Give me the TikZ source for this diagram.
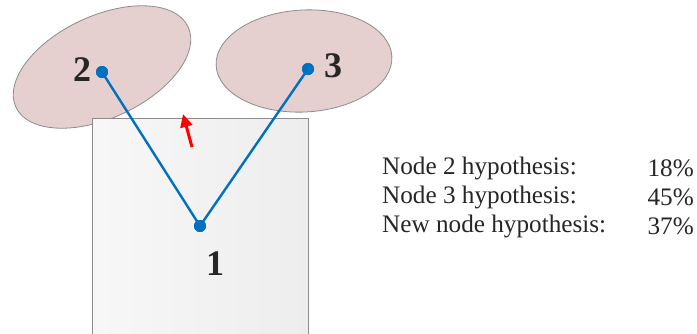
\documentclass[tikz,border=0pt]{standalone}
\usepackage{fontspec}
\setmainfont{Liberation Serif}
\usetikzlibrary{arrows.meta}
\definecolor{linkblue}{HTML}{0070C0}
\definecolor{blobfill}{HTML}{E6CFCF}
\definecolor{edgegray}{HTML}{8C8C8C}
\definecolor{inkdark}{HTML}{262626}
\tikzset{
  pt/.style={circle, fill=linkblue, inner sep=0pt, minimum size=12pt},
  link/.style={draw=linkblue, line width=2.4pt},
  numlabel/.style={font=\fontsize{36}{36}\selectfont\bfseries, text=inkdark, inner sep=0pt},
  info/.style={font=\fontsize{25.2}{25.2}\selectfont, text=inkdark, inner sep=0pt},
}
\begin{document}
\begin{tikzpicture}[x=1pt,y=-1pt]
\useasboundingbox (0,0) rectangle (697,333);
% neighbouring regions
\draw[draw=edgegray, fill=blobfill, line width=0.8pt, rotate around={25:(102,67)}]
  (102,67) ellipse [x radius=95, y radius=51];
\draw[draw=edgegray, fill=blobfill, line width=0.8pt, rotate around={3:(304,61)}]
  (304,61) ellipse [x radius=88, y radius=51];
% region of node 1
\shade[left color=white!97!black, right color=white!93!black, draw=edgegray, line width=0.8pt]
  (92,340) -- (92,118) -- (308,118) -- (308,340);
% nodes and links
\node[pt] (n1) at (200,226) {};
\node[pt] (n2) at (102,72) {};
\node[pt] (n3) at (308,69) {};
\draw[link] (n1.center) -- (n2.center);
\draw[link] (n1.center) -- (n3.center);
\node[pt] at (n1) {};
\node[pt] at (n2) {};
\node[pt] at (n3) {};
\node[numlabel] (l1) at (215,264) {1};
\node[numlabel] (l2) at (82,70) {2};
\node[numlabel] (l3) at (333,66) {3};
% motion cue
\coordinate (at) at (192,147);
\coordinate (ah) at (183,114);
\draw[red, line width=3pt, -{Triangle[length=13pt,width=12pt]}] (at) -- (ah);
% hypothesis table
\node[info, anchor=west] (h1) at (382,168) {Node 2 hypothesis:};
\node[info, anchor=west] (h2) at (382,197) {Node 3 hypothesis:};
\node[info, anchor=west] (h3) at (382,226) {New node hypothesis:};
\node[info, anchor=east] (p1) at (694,168) {18\%};
\node[info, anchor=east] (p2) at (694,197) {45\%};
\node[info, anchor=east] (p3) at (694,226) {37\%};
\end{tikzpicture}
\end{document}
